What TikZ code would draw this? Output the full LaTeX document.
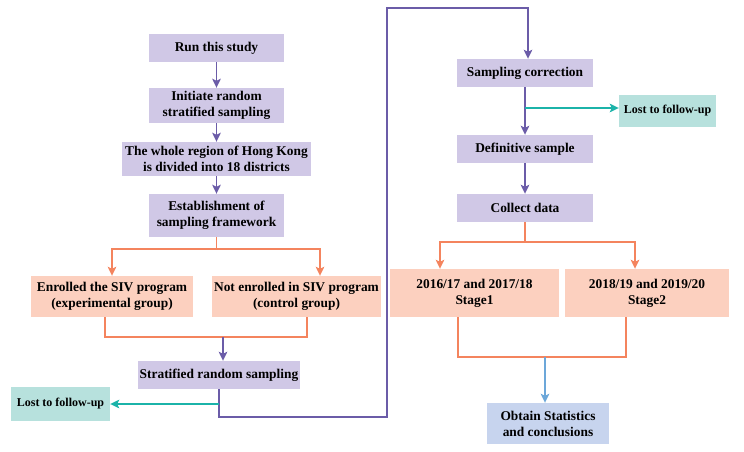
\documentclass[tikz,border=0pt]{standalone}
\usepackage{fontspec}
\setmainfont{Liberation Serif}
\usetikzlibrary{arrows.meta}

\definecolor{purpfill}{HTML}{D0C8E6}
\definecolor{purpline}{HTML}{6B5CA8}
\definecolor{orgfill}{HTML}{FCD0BF}
\definecolor{orgline}{HTML}{F4845E}
\definecolor{tealfill}{HTML}{B7E1DD}
\definecolor{tealline}{HTML}{1BB3A9}
\definecolor{bluefill}{HTML}{C7D4EE}
\definecolor{blueline}{HTML}{6CA7D9}

\begin{document}
\begin{tikzpicture}[
    x=1pt, y=-1pt,
    box/.style={inner sep=0pt, align=center, font=\fontsize{13.4}{16}\selectfont\bfseries},
    pbox/.style={box, fill=purpfill},
    obox/.style={box, fill=orgfill},
    tbox/.style={box, fill=tealfill, font=\fontsize{12}{14}\selectfont\bfseries},
    bbox/.style={box, fill=bluefill},
    tip/.style={-{Stealth[length=9pt, width=8.5pt, inset=2pt]}},
    pline/.style={draw=purpline, line width=1.8pt},
    oline/.style={draw=orgline, line width=1.8pt},
    plink/.style={pline, tip, purpline},
    olink/.style={oline, tip, orgline},
    tlink/.style={draw=tealline, line width=1.8pt, tip, tealline},
    blink/.style={draw=blueline, line width=1.8pt, tip, blueline}
]
\useasboundingbox (0,0) rectangle (744,452);

% left column
\node[pbox, minimum width=135pt, minimum height=28pt] (run) at (216.5,48) {Run this study};
\node[pbox, minimum width=135pt, minimum height=35pt] (init) at (216.5,105.5) {Initiate random\\stratified sampling};
\node[pbox, minimum width=189pt, minimum height=34pt] (hk) at (216.5,159) {The whole region of Hong Kong\\is divided into 18 districts};
\node[pbox, minimum width=135pt, minimum height=43pt] (frame) at (216.5,215.5) {Establishment of\\sampling framework};
\node[obox, minimum width=162pt, minimum height=41pt] (enr) at (112,296.5) {Enrolled the SIV program\\(experimental group)};
\node[obox, minimum width=169pt, minimum height=41pt] (noen) at (296.5,296.5) {Not enrolled in SIV program\\(control group)};
\node[pbox, minimum width=162pt, minimum height=28pt] (strat) at (219,375) {Stratified random sampling};
\node[tbox, minimum width=99pt, minimum height=34pt] (lostA) at (60.5,404) {Lost to follow-up};

% right column
\node[pbox, minimum width=136pt, minimum height=28pt] (corr) at (525,73) {Sampling correction};
\node[tbox, minimum width=97pt, minimum height=32pt] (lostB) at (667.5,111) {Lost to follow-up};
\node[pbox, minimum width=136pt, minimum height=28pt] (defin) at (525,149) {Definitive sample};
\node[pbox, minimum width=136pt, minimum height=28pt] (coll) at (525,208) {Collect data};
\node[obox, minimum width=169pt, minimum height=48pt] (stA) at (474.5,293) {2016/17 and 2017/18\\Stage1};
\node[obox, minimum width=164pt, minimum height=48pt] (stB) at (647,293) {2018/19 and 2019/20\\Stage2};
\node[bbox, minimum width=122pt, minimum height=41pt] (obt) at (548,423.5) {Obtain Statistics\\and conclusions};

\draw[plink] (run) -- (init);
\draw[plink] (init) -- (hk);
\draw[plink] (hk) -- (frame);

% split into groups
\draw[oline] (frame.south) -- ++(0,12) coordinate (fsplit);
\draw[olink] (fsplit) -| (enr.north);
\draw[olink] (fsplit) -| ([xshift=23.5pt]noen.north);
\draw[oline] ([xshift=-7pt]enr.south) -- ++(0,20) -| ([xshift=10.5pt]noen.south);
\coordinate (stratin) at ([xshift=4pt]strat.north);
\draw[plink] (stratin |- 0,337) -- (stratin);

% to the right column
\coordinate (turnL) at (387,417);
\coordinate (turnT) at (387,8);
\coordinate (corrin) at ([xshift=3pt]corr.north);
\draw[plink] (strat.south) |- (turnL) -- (turnT) -| (corrin);
\draw[tlink] (strat.south |- lostA.east) -- (lostA.east);

\draw[plink] (corr) -- (defin);
\coordinate (lostBin) at ([yshift=3pt]lostB.west);
\draw[tlink] (corr.south |- lostBin) -- (lostBin);
\draw[plink] (defin) -- (coll);

% stages
\draw[oline] (coll.south) -- ++(0,20) coordinate (csplit);
\draw[olink] (csplit) -| ([xshift=-34.5pt]stA.north);
\draw[olink] (csplit) -| ([xshift=-12pt]stB.north);
\draw[oline] ([xshift=-16.5pt]stA.south) -- ++(0,40) -| ([xshift=-21pt]stB.south);
\coordinate (obtin) at ([xshift=-3pt]obt.north);
\draw[blink] (obtin |- 0,357) -- (obtin);
\end{tikzpicture}
\end{document}
